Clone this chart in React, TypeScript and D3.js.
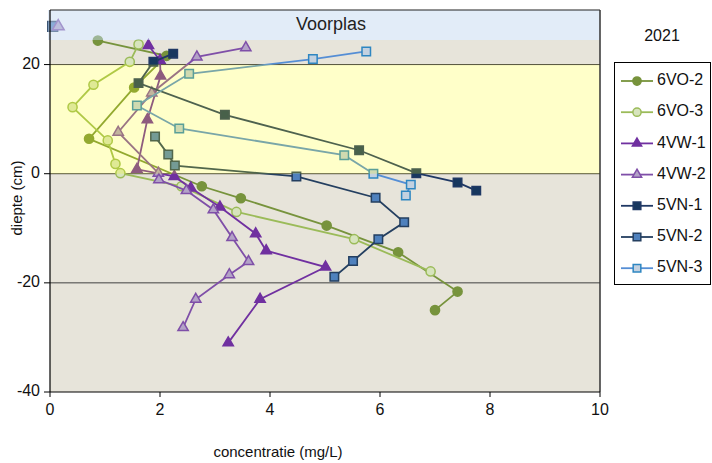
import React from "react";
import * as d3 from "d3";

const W = 712;
const H = 463;

// ---- data (concentration mg/L vs depth cm) ----
const seriesNames = ["6VO-2", "6VO-3", "4VW-1", "4VW-2", "5VN-1", "5VN-2", "5VN-3"];

const x6VO2 = [0.87, 2.12, 1.53, 0.71, 2.76, 3.47, 5.03, 6.33, 7.41, 7.0];
const y6VO2 = [24.4, 21.6, 15.8, 6.4, -2.3, -4.5, -9.5, -14.4, -21.6, -25.0];

const x6VO3 = [1.61, 1.45, 0.79, 0.41, 1.05, 1.19, 1.28, 2.39, 3.39, 5.53, 6.92];
const y6VO3 = [23.7, 20.5, 16.3, 12.2, 6.1, 1.8, 0.1, -2.3, -7.0, -12.0, -17.9];

const x4VW1 = [1.79, 2.0, 2.01, 1.77, 1.58, 2.26, 2.56, 3.09, 3.74, 3.93, 5.01, 3.82, 3.24];
const y4VW1 = [23.5, 20.8, 17.9, 9.9, 0.8, -0.5, -2.6, -6.1, -11.0, -14.1, -17.1, -23.0, -31.0];

const x4VW2 = [3.56, 2.67, 1.85, 1.24, 1.97, 1.98, 2.48, 2.97, 3.31, 3.61, 3.26, 2.65, 2.42];
const y4VW2 = [23.1, 21.4, 14.8, 7.6, 0.1, -1.1, -3.1, -6.6, -11.7, -16.1, -18.5, -23.0, -28.2];

const x5VN1 = [2.24, 1.88, 1.61, 3.18, 5.62, 6.66, 7.41, 7.75];
const y5VN1 = [22.0, 20.5, 16.6, 10.8, 4.3, 0.1, -1.6, -3.1];

const x5VN2 = [1.91, 2.15, 2.27, 4.48, 5.92, 6.44, 5.97, 5.51, 5.17];
const y5VN2 = [6.8, 3.5, 1.5, -0.5, -4.4, -8.9, -12.0, -16.0, -18.9];

const x5VN3 = [5.75, 4.78, 2.53, 1.58, 2.35, 5.35, 5.88, 6.56, 6.47];
const y5VN3 = [22.4, 21.0, 18.3, 12.5, 8.3, 3.4, 0.0, -2.0, -4.0];

// surface water (voorplas) single points
const vpX = [0.05, 0.15];
const vpY = [27, 27];
const vpSeries = ["5VN-2", "4VW-2"];

const xTicks = [0, 2, 4, 6, 8, 10];
const yTicks = [20, 0, -20, -40];
const gridValues = [20, 0, -20];

type Style = { line: string; fill: string; stroke: string; shape: "circle" | "triangle" | "square" };
const styles: Record<string, Style> = {
  "6VO-2": { line: "#77933c", fill: "#77933c", stroke: "#77933c", shape: "circle" },
  "6VO-3": { line: "#9bbb59", fill: "#d7e4bd", stroke: "#9bbb59", shape: "circle" },
  "4VW-1": { line: "#7030a0", fill: "#7030a0", stroke: "#7030a0", shape: "triangle" },
  "4VW-2": { line: "#7f4fa8", fill: "#b3a2c7", stroke: "#7f4fa8", shape: "triangle" },
  "5VN-1": { line: "#1f3864", fill: "#17375e", stroke: "#1f3864", shape: "square" },
  "5VN-2": { line: "#243f60", fill: "#4f81bd", stroke: "#243f60", shape: "square" },
  "5VN-3": { line: "#558ed5", fill: "#c3d1e0", stroke: "#2e86c1", shape: "square" },
};

const seriesData: Record<string, { x: number[]; y: number[] }> = {
  "6VO-2": { x: x6VO2, y: y6VO2 },
  "6VO-3": { x: x6VO3, y: y6VO3 },
  "4VW-1": { x: x4VW1, y: y4VW1 },
  "4VW-2": { x: x4VW2, y: y4VW2 },
  "5VN-1": { x: x5VN1, y: y5VN1 },
  "5VN-2": { x: x5VN2, y: y5VN2 },
  "5VN-3": { x: x5VN3, y: y5VN3 },
};

const PL = 50, PR = 600, PT = 10, PB = 392;
const xScale = d3.scaleLinear().domain([0, 10]).range([PL, PR]);
const yScale = d3.scaleLinear().domain([-40, 30]).range([PB, PT]);

const FONT = "Liberation Sans, Arial, sans-serif";

function markerPath(shape: string, scale = 1) {
  const t = shape === "circle" ? d3.symbolCircle : shape === "triangle" ? d3.symbolTriangle : d3.symbolSquare;
  const size = shape === "circle" ? 66 : shape === "triangle" ? 46 : 72;
  return d3.symbol().type(t).size(size * scale * scale)() as string;
}

export default function App() {
  const line = d3.line<[number, number]>().x((d) => xScale(d[0])).y((d) => yScale(d[1]));
  return (
    <svg width={W} height={H} style={{ position: "absolute", left: 0, top: 0, background: "#fff" }}>
      {/* backgrounds */}
      <rect x={PL} y={PT} width={PR - PL} height={PB - PT} fill="#e7e4da" />
      <rect x={PL} y={yScale(20)} width={PR - PL} height={yScale(0) - yScale(20)} fill="#ffffff" />
      <rect x={PL - 2} y={PT} width={PR - PL + 2} height={yScale(24.5) - PT} fill="#ffffff" />

      {/* gridlines */}
      {gridValues.map((v) => (
        <line key={v} x1={PL} x2={PR} y1={yScale(v)} y2={yScale(v)} stroke="#404040" strokeWidth={1} />
      ))}

      {/* series */}
      {seriesNames.map((name) => {
        const s = styles[name];
        const d = seriesData[name];
        const pts = d.x.map((xv, i) => [xv, d.y[i]] as [number, number]);
        const mp = markerPath(s.shape);
        return (
          <g key={name}>
            <path d={line(pts) as string} fill="none" stroke={s.line} strokeWidth={1.8} />
            {pts.map((p, i) => (
              <path
                key={i}
                d={mp}
                transform={`translate(${xScale(p[0])},${yScale(p[1])})`}
                fill={s.fill}
                stroke={s.stroke}
                strokeWidth={1.5}
              />
            ))}
          </g>
        );
      })}
      {vpX.map((xv, i) => {
        const s = styles[vpSeries[i]];
        return (
          <path
            key={"vp" + i}
            d={markerPath(s.shape, 1.15)}
            transform={`translate(${xScale(xv)},${yScale(vpY[i])})`}
            fill={s.fill}
            stroke={s.stroke}
            strokeWidth={1.5}
          />
        );
      })}

      {/* translucent overlays */}
      <rect x={PL} y={yScale(20)} width={PR - PL} height={yScale(0) - yScale(20)} fill="#ffff00" opacity={0.21} />
      <rect x={PL - 2} y={PT} width={PR - PL + 2} height={yScale(24.5) - PT} fill="#c6d9f1" opacity={0.5} />

      <text x={331} y={25} fontFamily={FONT} fontSize={18} fill="#222" textAnchor="middle" dominantBaseline="middle">
        Voorplas
      </text>

      {/* frame */}
      <line x1={PL} x2={PR} y1={PT} y2={PT} stroke="#222" strokeWidth={1.2} />
      <line x1={PR} x2={PR} y1={PT} y2={PB} stroke="#333" strokeWidth={1.5} />
      <line x1={PL} x2={PL} y1={PT} y2={PB} stroke="#000" strokeWidth={1.2} />
      <line x1={PL} x2={PR} y1={PB} y2={PB} stroke="#000" strokeWidth={1.2} />

      {/* y axis */}
      {yTicks.map((v) => (
        <g key={v}>
          <line x1={PL - 6} x2={PL} y1={yScale(v)} y2={yScale(v)} stroke="#000" />
          <text x={PL - 10} y={yScale(v)} fontFamily={FONT} fontSize={16} textAnchor="end" dominantBaseline="middle" fill="#111">
            {v}
          </text>
        </g>
      ))}
      {/* x axis */}
      {xTicks.map((v) => (
        <g key={v}>
          <line x1={xScale(v)} x2={xScale(v)} y1={PB} y2={PB + 5} stroke="#000" />
          <text x={xScale(v)} y={411} fontFamily={FONT} fontSize={16} textAnchor="middle" dominantBaseline="middle" fill="#111">
            {v}
          </text>
        </g>
      ))}
      <text
        transform={`translate(18,198) rotate(-90)`}
        fontFamily={FONT}
        fontSize={15}
        textAnchor="middle"
        dominantBaseline="middle"
        fill="#111"
      >
        diepte (cm)
      </text>
      <text x={278} y={453} fontFamily={FONT} fontSize={15} textAnchor="middle" dominantBaseline="middle" fill="#111">
        concentratie (mg/L)
      </text>

      {/* legend */}
      <text x={662} y={37} fontFamily={FONT} fontSize={16} textAnchor="middle" dominantBaseline="middle" fill="#111">
        2021
      </text>
      <rect x={614.5} y={62.5} width={96} height={222} fill="#fff" stroke="#000" strokeWidth={1} />
      {seriesNames.map((name, i) => {
        const s = styles[name];
        const ly = 81 + i * 31.2;
        return (
          <g key={"lg" + name}>
            <line x1={621} x2={653} y1={ly} y2={ly} stroke={s.line} strokeWidth={1.8} />
            <path d={markerPath(s.shape, 0.9)} transform={`translate(637,${ly})`} fill={s.fill} stroke={s.stroke} strokeWidth={1.5} />
            <text x={657} y={ly} fontFamily={FONT} fontSize={16} dominantBaseline="middle" fill="#111">
              {name}
            </text>
          </g>
        );
      })}
    </svg>
  );
}
